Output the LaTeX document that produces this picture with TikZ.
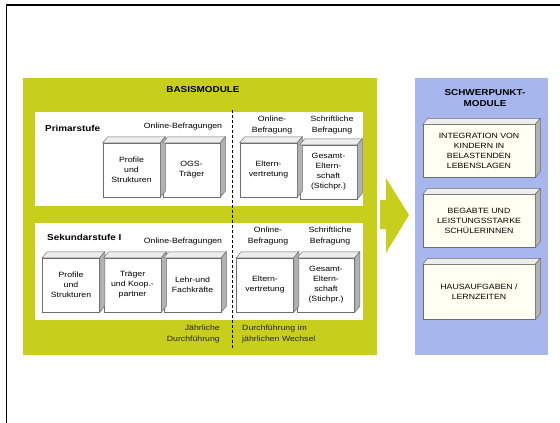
\documentclass[tikz,border=0pt]{standalone}
\usepackage{fontspec}
\setmainfont[FakeStretch=1.15]{Liberation Sans}
\usetikzlibrary{positioning}

\definecolor{basis}{RGB}{200,206,28}
\definecolor{schwer}{RGB}{167,182,236}
\definecolor{creme}{RGB}{255,255,242}
\definecolor{cubeline}{RGB}{110,110,110}

% top and right face of a box node
\newcommand\boxdepth[1]{%
  \filldraw[cubeline, fill=black!7, line width=0.5pt]
    (#1.north west) -- ++(5,-6) -- ([shift={(5,-6)}]#1.north east) -- (#1.north east) -- cycle;
  \filldraw[cubeline, fill=black!30, line width=0.5pt]
    (#1.north east) -- ++(5,-6) -- ([shift={(5,-6)}]#1.south east) -- (#1.south east) -- cycle;
}

\begin{document}
\begin{tikzpicture}[x=1pt, y=-1pt,
    font=\fontsize{7.6}{10}\selectfont,
    cube/.style = {draw=cubeline, fill=white, line width=0.5pt, align=center,
                   inner sep=1pt, minimum width=57pt, minimum height=54pt},
    topic/.style = {cube, fill=creme, minimum width=112pt, minimum height=53pt},
    head/.style = {font=\fontsize{8.6}{11}\selectfont\bfseries, inner sep=0pt},
    small/.style = {align=center, inner sep=0pt, font=\fontsize{7.6}{11.5}\selectfont}]
  \useasboundingbox (0,0) rectangle (560,423);
  \draw[line width=1.3pt] (6.5,423) -- (6.5,5) -- (560,5);

  % the two background areas and the arrow between them
  \fill[basis] (23,78) rectangle (377,355);
  \fill[schwer] (415,78) rectangle (548,355);
  \fill[basis] (380,200) -- (386,200) -- (386,178) -- (409,215)
    -- (386,253) -- (386,229) -- (380,229) -- cycle;
  \fill[white] (35,112) rectangle (363,206);
  \fill[white] (35,223) rectangle (363,320);
  \draw[line width=0.8pt, dash pattern=on 3pt off 2pt] (232,110) -- (232,348);

  \node[head] (basis) at (203,90) {BASISMODULE};

  % Primarstufe
  \node[head, anchor=west] (prim) at (45,128) {Primarstufe};
  \node[small] (online1) at (183,127) {Online-Befragungen};
  \node[small] (online1b) at (272,125) {Online-\\Befragung};
  \node[small] (schrift1) at (332,125) {Schriftliche\\Befragung};
  \node[cube] (p1) at (131.5,170) {Profile\\und\\Strukturen};
  \node[cube] (p2) at (191.5,170) {OGS-\\Träger};
  \node[cube] (p3) at (268.5,170) {Eltern-\\vertretung};
  \node[cube] (p4) at (328.5,172) {Gesamt-\\Eltern-\\schaft\\(Stichpr.)};

  % Sekundarstufe I
  \node[head, anchor=west] (sek) at (47,237) {Sekundarstufe I};
  \node[small] (online2) at (183,242) {Online-Befragungen};
  \node[small] (online2b) at (268,236) {Online-\\Befragung};
  \node[small] (schrift2) at (330,236) {Schriftliche\\Befragung};
  \node[cube] (s1) at (71,285) {Profile\\und\\Strukturen};
  \node[cube] (s2) at (132.5,285) {Träger\\und Koop.-\\partner};
  \node[cube] (s3) at (192.5,285) {Lehr-und\\Fachkräfte};
  \node[cube] (s4) at (265,285) {Eltern-\\vertretung};
  \node[cube] (s5) at (326,285) {Gesamt-\\Eltern-\\schaft\\(Stichpr.)};

  \node[small, align=right, anchor=east, text=black!85] (jahr) at (220,334) {Jährliche\\Durchführung};
  \node[small, align=left, anchor=west, text=black!85] (wechsel) at (242,334) {Durchführung im\\jährlichen Wechsel};

  % Schwerpunktmodule
  \node[head, align=center] (schwer) at (485,98) {SCHWERPUNKT-\\MODULE};
  \node[topic] (t1) at (479,151) {INTEGRATION VON\\KINDERN IN\\BELASTENDEN\\LEBENSLAGEN};
  \node[topic] (t2) at (479,221) {BEGABTE UND\\LEISTUNGSSTARKE\\SCHÜLERINNEN};
  \node[topic, minimum height=55pt] (t3) at (479,292) {HAUSAUFGABEN /\\LERNZEITEN};

  \foreach \b in {p1,p2,p3,p4,s1,s2,s3,s4,s5,t1,t2,t3}
    {\boxdepth{\b}}
\end{tikzpicture}
\end{document}
